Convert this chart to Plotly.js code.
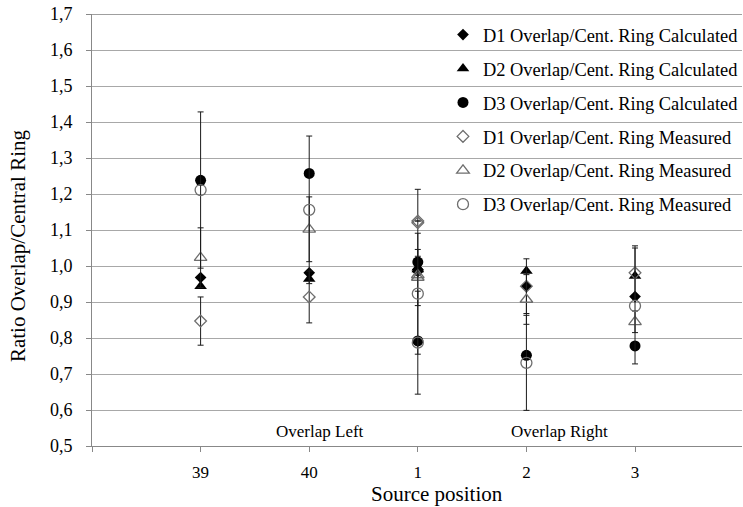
<!DOCTYPE html>
<html>
<head>
<meta charset="utf-8">
<script src="https://cdn.plot.ly/plotly-3.0.1.min.js"></script>
<style>html,body{margin:0;padding:0;background:#fff;}#chart{width:743px;height:507px;}</style>
</head>
<body>
<div id="chart"></div>
<script>
// Source positions (x slots on the axis); position "1" carries two points (left and right overlap)
const slotIndex = [1, 2, 3, 3, 4, 5];
const tickSlots = [0, 1, 2, 3, 4, 5, 6];
const tickLabels = ["", "39", "40", "1", "2", "3", ""];

const seriesNames = [
  "D1 Overlap/Cent. Ring Calculated",
  "D2 Overlap/Cent. Ring Calculated",
  "D3 Overlap/Cent. Ring Calculated",
  "D1 Overlap/Cent. Ring Measured",
  "D2 Overlap/Cent. Ring Measured",
  "D3 Overlap/Cent. Ring Measured"
];

const d1Calc = [0.968, 0.981, 0.990, 0.985, 0.944, 0.915];
const d2Calc = [0.944, 0.964, 0.995, 0.990, 0.986, 0.972];
const d3Calc = [1.238, 1.257, 1.011, 0.792, 0.752, 0.778];
const d1Meas = [0.847, 0.914, 1.120, 1.125, 0.944, 0.981];
const d2Meas = [1.023, 1.102, 0.968, 0.975, 0.907, 0.845];
const d3Meas = [1.211, 1.156, 0.923, 0.787, 0.731, 0.889];

const d1MeasErr = [0.067, 0.072, 0.093, 0.000, 0.076, 0.075];
const d2MeasErr = [0.083, 0.090, 0.078, 0.000, 0.069, 0.030];
const d3MeasErr = [0.217, 0.205, 0.168, 0.143, 0.132, 0.161];

const regionLabels = ["Overlap Left", "Overlap Right"];
const regionLabelX = [2.1, 4.3];
const regionLabelY = [0.54, 0.54];

const yMin = 0.5, yMax = 1.7;

const FONT = "Liberation Serif";
const openGray = "#6e6e6e";

function calcTrace(name, y, symbol, size, i) {
  return {
    type: "scatter", mode: "markers", name: name, x: slotIndex, y: y,
    legendgroup: "g" + i,
    marker: {symbol: symbol, size: size, color: "#000000", line: {width: 0}}
  };
}
function measTrace(name, y, err, symbol, size, i) {
  return {
    type: "scatter", mode: "markers", name: name, x: slotIndex, y: y,
    legendgroup: "g" + i,
    marker: {symbol: symbol, size: size, color: openGray, line: {width: 1.3, color: openGray}},
    error_y: {type: "data", array: err, visible: true, color: "#1a1a1a", thickness: 1, width: 3}
  };
}

const traces = [
  calcTrace(seriesNames[0], d1Calc, "diamond", 9, 0),
  calcTrace(seriesNames[1], d2Calc, "triangle-up", 11, 1),
  calcTrace(seriesNames[2], d3Calc, "circle", 11, 2),
  measTrace(seriesNames[3], d1Meas, d1MeasErr, "diamond-open", 9, 3),
  measTrace(seriesNames[4], d2Meas, d2MeasErr, "triangle-up-open", 11, 4),
  measTrace(seriesNames[5], d3Meas, d3MeasErr, "circle-open", 11, 5)
];

const annotations = regionLabels.map((t, i) => ({
  text: t, x: regionLabelX[i], y: regionLabelY[i], xref: "x", yref: "y",
  xanchor: "center", yanchor: "middle",
  showarrow: false, font: {family: FONT, size: 17, color: "#000"}
}));
annotations.push({
  text: "Source position", xref: "paper", yref: "paper", x: 0.5315, y: -0.111,
  xanchor: "center", yanchor: "middle",
  showarrow: false, font: {family: FONT, size: 21, color: "#000"}
});
annotations.push({
  text: "Ratio Overlap/Central Ring", xref: "paper", yref: "paper", x: -0.1137, y: 0.463,
  xanchor: "center", yanchor: "middle",
  textangle: -90, showarrow: false, font: {family: FONT, size: 21, color: "#000"}
});

const layout = {
  width: 743, height: 507,
  margin: {l: 92, r: 0, t: 14, b: 61, pad: 0},
  paper_bgcolor: "#ffffff", plot_bgcolor: "#ffffff",
  separators: ", ",
  font: {family: FONT, color: "#000"},
  showlegend: true,
  legend: {
    x: 0.54, y: 0.995, xanchor: "left", yanchor: "top",
    bgcolor: "rgba(0,0,0,0)", borderwidth: 0,
    font: {family: FONT, size: 18.4, color: "#000"},
    traceorder: "grouped", tracegroupgap: 7
  },
  xaxis: {
    range: [0, 5.985], tickmode: "array", tickvals: tickSlots, ticktext: tickLabels,
    showgrid: false, zeroline: false, showline: true, linecolor: "#888888", linewidth: 1,
    ticks: "outside", ticklen: 5, tickcolor: "#888888",
    tickfont: {family: FONT, size: 17, color: "#000"}, ticklabelstandoff: 6
  },
  yaxis: {
    range: [yMin, yMax], dtick: 0.1, tick0: 0.5, tickformat: ".1f",
    showgrid: true, gridcolor: "#a8a8a8", gridwidth: 1,
    zeroline: false, showline: true, linecolor: "#888888", linewidth: 1,
    ticks: "outside", ticklen: 5, tickcolor: "#888888",
    tickfont: {family: FONT, size: 18, color: "#000"}, ticklabelstandoff: 10
  },
  shapes: [{
    type: "line", xref: "paper", yref: "y", x0: 0, x1: 1, y0: yMax, y1: yMax,
    line: {color: "#404040", width: 1.2}, layer: "below"
  }],
  annotations: annotations
};

Plotly.newPlot("chart", traces, layout, {displayModeBar: false, staticPlot: true});
</script>
</body>
</html>
